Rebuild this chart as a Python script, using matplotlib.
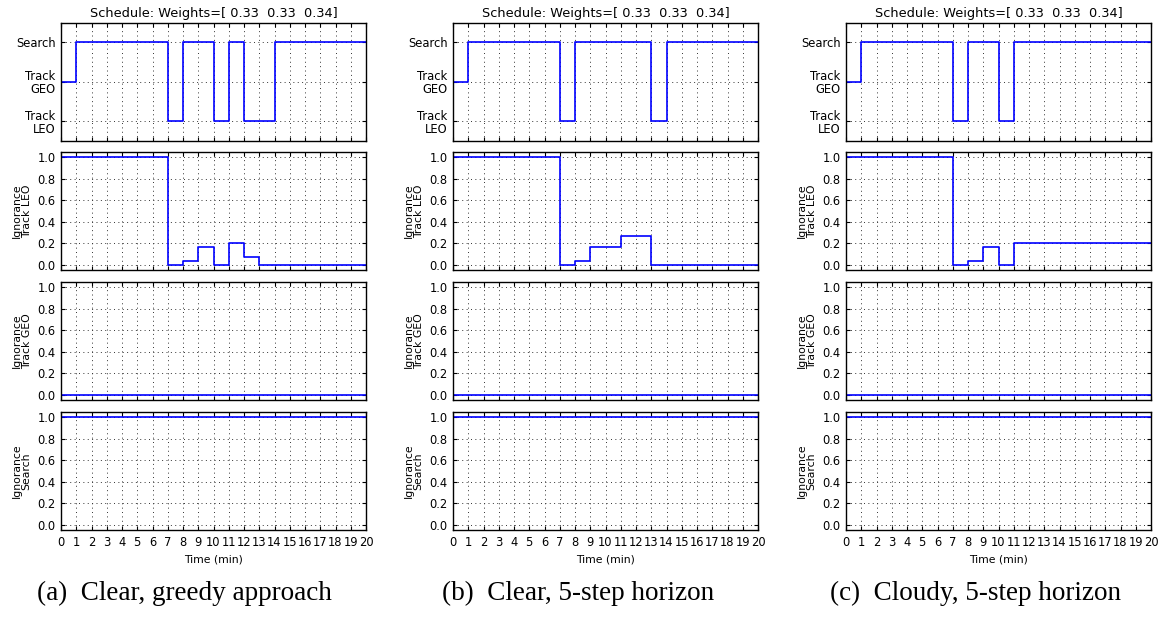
import numpy as np
import matplotlib
matplotlib.use("Agg")
import matplotlib.pyplot as plt

# ============================= data =============================
time = [0, 1, 2, 3, 4, 5, 6, 7, 8, 9, 10, 11, 12, 13, 14, 15, 16, 17, 18, 19, 20]

# schedule: 0 = Track LEO, 1 = Track GEO, 2 = Search
sched_a = [1, 2, 2, 2, 2, 2, 2, 0, 2, 2, 0, 2, 0, 0, 2, 2, 2, 2, 2, 2, 2]
sched_b = [1, 2, 2, 2, 2, 2, 2, 0, 2, 2, 2, 2, 2, 0, 2, 2, 2, 2, 2, 2, 2]
sched_c = [1, 2, 2, 2, 2, 2, 2, 0, 2, 2, 0, 2, 2, 2, 2, 2, 2, 2, 2, 2, 2]

leo_a = [1, 1, 1, 1, 1, 1, 1, 0, 0.035, 0.16, 0, 0.2, 0.075, 0, 0, 0, 0, 0, 0, 0, 0]
leo_b = [1, 1, 1, 1, 1, 1, 1, 0, 0.035, 0.16, 0.16, 0.27, 0.27, 0, 0, 0, 0, 0, 0, 0, 0]
leo_c = [1, 1, 1, 1, 1, 1, 1, 0, 0.035, 0.16, 0, 0.2, 0.2, 0.2, 0.2, 0.2, 0.2, 0.2, 0.2, 0.2, 0.2]

geo_all = [0, 0, 0, 0, 0, 0, 0, 0, 0, 0, 0, 0, 0, 0, 0, 0, 0, 0, 0, 0, 0]
search_all = [1, 1, 1, 1, 1, 1, 1, 1, 1, 1, 1, 1, 1, 1, 1, 1, 1, 1, 1, 1, 1]

sched_labels = ["Track\nLEO", "Track\nGEO", "Search"]
ign_labels = ["Ignorance\nTrack LEO", "Ignorance\nTrack GEO", "Ignorance\nSearch"]
captions = ["(a)  Clear, greedy approach", "(b)  Clear, 5-step horizon", "(c)  Cloudy, 5-step horizon"]
title = "Schedule: Weights=[ 0.33  0.33  0.34]"

columns = [
    (sched_a, leo_a, geo_all, search_all),
    (sched_b, leo_b, geo_all, search_all),
    (sched_c, leo_c, geo_all, search_all),
]

# =================== style ===================
plt.rcParams["font.family"] = "DejaVu Sans"
plt.rcParams["xtick.direction"] = "in"
plt.rcParams["ytick.direction"] = "in"
plt.rcParams["xtick.top"] = True
plt.rcParams["ytick.right"] = True
plt.rcParams["xtick.major.size"] = 3
plt.rcParams["ytick.major.size"] = 3
plt.rcParams["xtick.major.pad"] = 4
plt.rcParams["ytick.major.pad"] = 4
plt.rcParams["axes.linewidth"] = 1.0

W, H = 1159, 621
fig = plt.figure(figsize=(W / 100, H / 100), dpi=100)

lefts = [61, 453, 846]
width = 305
rows = [(22.7, 140.7), (152, 270), (282, 400), (412, 530)]
cap_x = [184, 578, 976]
grid_kw = dict(color="0.2", linestyle=(0, (1, 3.5)), linewidth=0.7)


def add_ax(left, top, bottom):
    return fig.add_axes([left / W, 1 - bottom / H, width / W, (bottom - top) / H])


for ci, (sched, leo, geo, srch) in enumerate(columns):
    left = lefts[ci]

    # schedule panel
    ax = add_ax(left, *rows[0])
    ax.step(time, sched, where="post", color="blue", lw=1.2)
    ax.set_xlim(0, 20)
    ax.set_ylim(-0.5, 2.5)
    ax.set_yticks([0, 1, 2])
    ax.set_yticklabels(sched_labels, fontsize=8.3, multialignment="right", linespacing=1.0)
    ax.set_xticks(time)
    ax.set_xticklabels([])
    ax.grid(True, **grid_kw)
    ax.set_title(title, fontsize=9.3, pad=4)

    # ignorance panels
    for ri, (vals, lab) in enumerate(zip([leo, geo, srch], ign_labels)):
        ax = add_ax(left, *rows[ri + 1])
        ax.step(time, vals, where="post", color="blue", lw=1.2)
        ax.set_xlim(0, 20)
        ax.set_ylim(-0.05, 1.05)
        ax.set_yticks([0, 0.2, 0.4, 0.6, 0.8, 1.0])
        ax.set_yticklabels(["0.0", "0.2", "0.4", "0.6", "0.8", "1.0"], fontsize=8.3)
        ax.set_xticks(time)
        ax.set_ylabel(lab, fontsize=7.8, linespacing=0.95, labelpad=4)
        ax.grid(True, **grid_kw)
        if ri == 2:
            ax.set_xticklabels([str(t) for t in time], fontsize=8.3)
            ax.set_xlabel("Time (min)", fontsize=7.8)
        else:
            ax.set_xticklabels([])

    fig.text(cap_x[ci] / W, 1 - 593 / H, captions[ci], family="Liberation Serif",
             fontsize=19.5, ha="center", va="center")

fig.savefig("out.png", dpi=100, facecolor="white")
